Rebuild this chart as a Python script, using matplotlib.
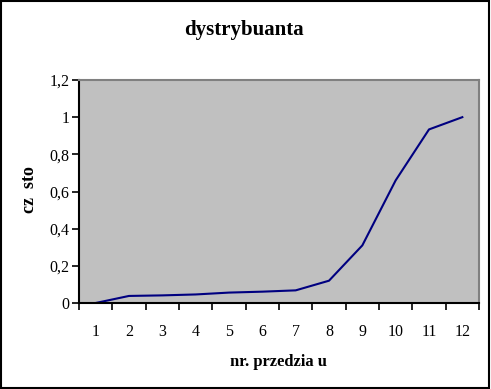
import matplotlib.pyplot as plt
from matplotlib.patches import Rectangle

# data
przedzialy = [1, 2, 3, 4, 5, 6, 7, 8, 9, 10, 11, 12]
dystrybuanta = [0.0, 0.038, 0.041, 0.046, 0.056, 0.061, 0.068, 0.12, 0.31, 0.66, 0.934, 1.0]
y_ticks = [0, 0.2, 0.4, 0.6, 0.8, 1.0, 1.2]
y_labels = ["0", "0,2", "0,4", "0,6", "0,8", "1", "1,2"]

plt.rcParams["font.family"] = ["Liberation Serif", "DejaVu Serif"]

fig = plt.figure(figsize=(4.91, 3.89), dpi=100)
ax = fig.add_axes([79 / 491, 1 - 303 / 389, 400 / 491, 223 / 389])
ax.set_facecolor("#c0c0c0")

ax.plot(przedzialy, dystrybuanta, color="#000080", lw=1.5)

ax.set_xlim(0.5, 12.5)
ax.set_ylim(0, 1.2)

# category boundaries as major ticks, labels on minor ticks
ax.set_xticks([i + 0.5 for i in range(0, 13)])
ax.set_xticklabels([])
ax.set_xticks(przedzialy, minor=True)
ax.set_xticklabels([str(p) for p in przedzialy], minor=True, fontsize=11.5)
ax.tick_params(axis="x", which="major", direction="out", length=5, width=1.2)
ax.tick_params(axis="x", which="minor", length=0, pad=15)

ax.set_yticks(y_ticks)
ax.set_yticklabels(y_labels, fontsize=11.5)
ax.tick_params(axis="y", direction="out", length=5, width=1.2, pad=2)

for s in ["left", "bottom"]:
    ax.spines[s].set_color("black")
    ax.spines[s].set_linewidth(1.5)
for s in ["top", "right"]:
    ax.spines[s].set_color("#808080")
    ax.spines[s].set_linewidth(1.5)

fig.text(244 / 491, 1 - 30 / 389, "dystrybuanta", ha="center", va="center",
         fontsize=15, fontweight="bold")
fig.text(278 / 491, 1 - 362 / 389, "nr. przedzia u", ha="center", va="center",
         fontsize=12, fontweight="bold")
fig.text(29 / 491, 1 - 190 / 389, "cz  sto", ha="center", va="center",
         fontsize=13, fontweight="bold", rotation=90)

fig.patches.append(Rectangle((0.002, 0.003), 0.994, 0.994, transform=fig.transFigure,
                             fill=False, edgecolor="black", lw=1.5))

plt.savefig("out.png", dpi=100)
